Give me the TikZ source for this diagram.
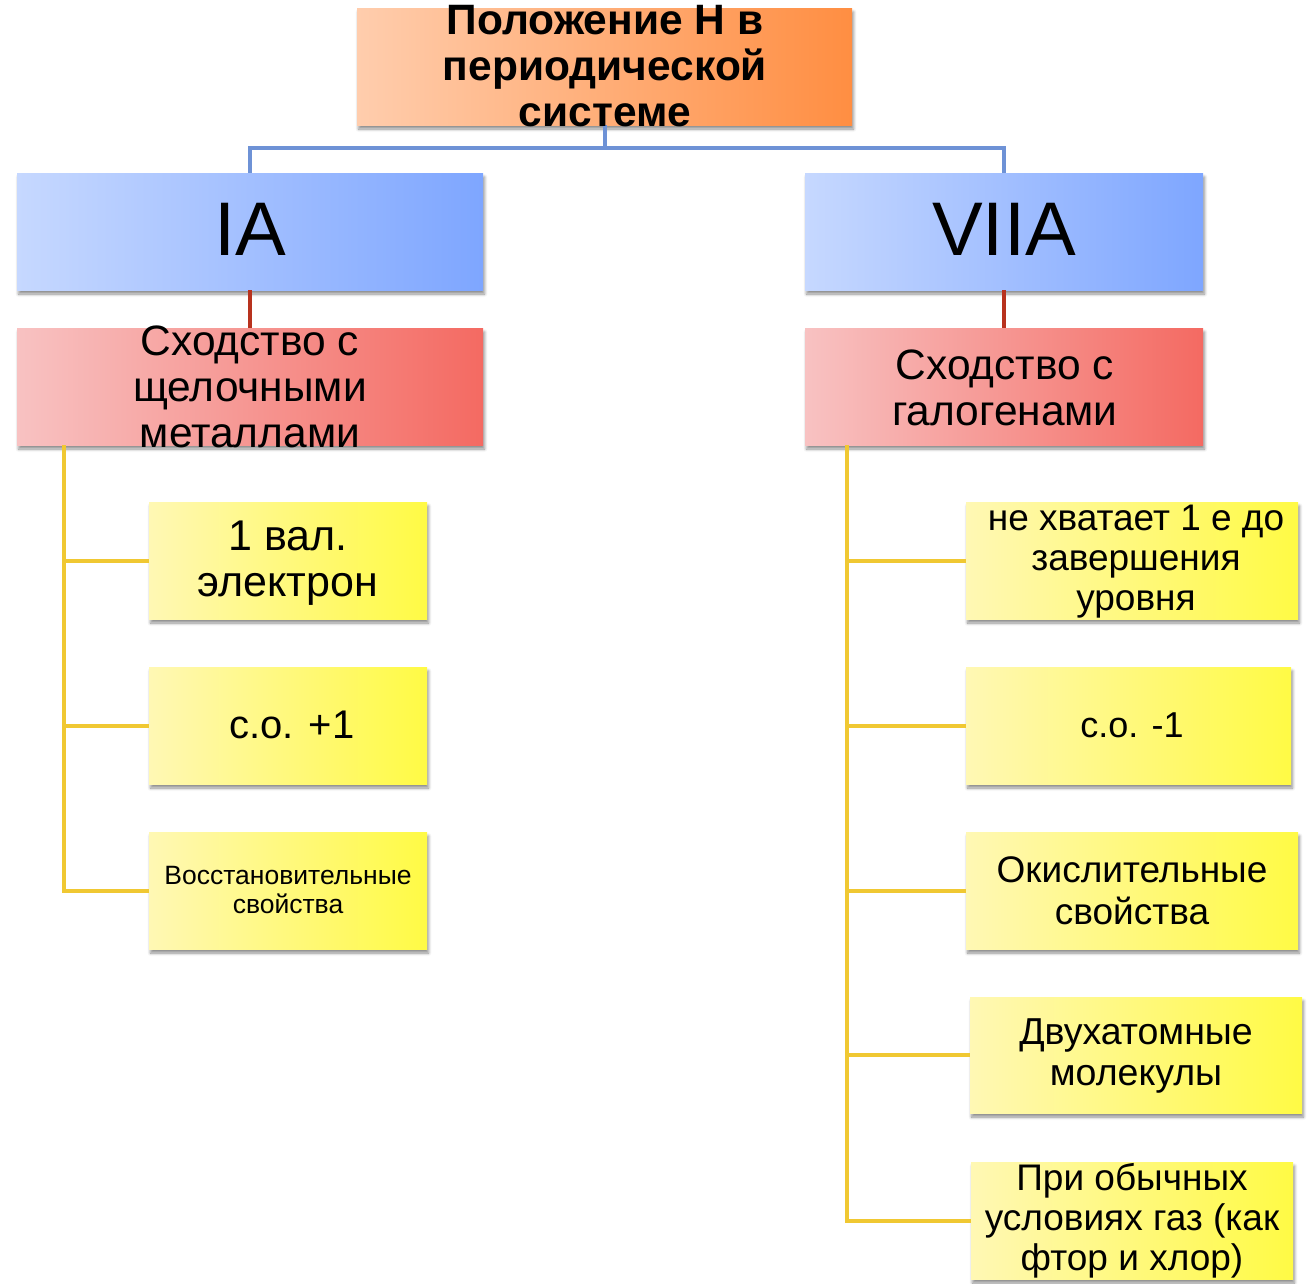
\documentclass[tikz,border=0pt]{standalone}
\usepackage{fontspec}
\setmainfont{Liberation Sans}
\usetikzlibrary{shadows,shadows.blur}
\definecolor{topL}{HTML}{FFCDAD}
\definecolor{topR}{HTML}{FF8E42}
\definecolor{bluL}{HTML}{C6D8FF}
\definecolor{bluR}{HTML}{7EA6FF}
\definecolor{redL}{HTML}{F8C2C2}
\definecolor{redR}{HTML}{F46A62}
\definecolor{yelL}{HTML}{FFF8B4}
\definecolor{yelR}{HTML}{FFFA45}
\definecolor{lnBlue}{HTML}{6E92D6}
\definecolor{lnRed}{HTML}{B8321E}
\definecolor{lnYel}{HTML}{F0C832}
\tikzset{
  box/.style={rectangle, inner sep=0pt, draw=none,
    blur shadow={shadow xshift=1.5pt, shadow yshift=-4pt, shadow blur radius=3pt, shadow blur steps=6, shadow opacity=45}},
  topbox/.style={box, left color=topL, right color=topR},
  grpbox/.style={box, left color=bluL, right color=bluR},
  simbox/.style={box, left color=redL, right color=redR},
  itembox/.style={box, left color=yelL, right color=yelR},
  txt/.style={inner sep=0pt, align=center, text=black},
  conBlue/.style={draw=lnBlue, line width=4pt},
  conRed/.style={draw=lnRed, line width=4pt},
  conYel/.style={draw=lnYel, line width=4pt},
}
\begin{document}
\begin{tikzpicture}[x=1pt,y=-1pt]
\useasboundingbox (0,0) rectangle (1307,1283);
% boxes
\node[topbox, minimum width=495pt, minimum height=117pt] (top) at (604.5,66.5) {};
\node[grpbox, minimum width=466pt, minimum height=117pt] (ia) at (250,231.5) {};
\node[grpbox, minimum width=398pt, minimum height=117pt] (viia) at (1004,231.5) {};
\node[simbox, minimum width=466pt, minimum height=117pt] (sl) at (250,386.5) {};
\node[simbox, minimum width=398pt, minimum height=117pt] (sr) at (1004,386.5) {};
\node[itembox, minimum width=278pt, minimum height=117pt] (l1) at (288,560.5) {};
\node[itembox, minimum width=278pt, minimum height=117pt] (l2) at (288,725.5) {};
\node[itembox, minimum width=278pt, minimum height=117pt] (l3) at (288,890.5) {};
\node[itembox, minimum width=332pt, minimum height=117pt] (r1) at (1132,560.5) {};
\node[itembox, minimum width=325pt, minimum height=117pt] (r2) at (1128.5,725.5) {};
\node[itembox, minimum width=332pt, minimum height=117pt] (r3) at (1132,890.5) {};
\node[itembox, minimum width=332pt, minimum height=116pt] (r4) at (1136,1055) {};
\node[itembox, minimum width=322pt, minimum height=117pt] (r5) at (1132,1220.5) {};
% connectors
\coordinate (bj) at (605,148);
\draw[conBlue] (top.south -| bj) -- (bj);
\draw[conBlue] (ia.north) |- (bj) -| (viia.north);
\draw[conRed] (ia.south) -- (sl.north);
\draw[conRed] (viia.south) -- (sr.north);
\coordinate (lv) at (64,445);
\coordinate (rv) at (847,445);
\draw[conYel] (lv) |- (l1.west);
\draw[conYel] (lv) |- (l2.west);
\draw[conYel] (lv) |- (l3.west);
\draw[conYel] (rv) |- (r1.west);
\draw[conYel] (rv) |- (r2.west);
\draw[conYel] (rv) |- (r3.west);
\draw[conYel] (rv) |- (r4.west);
\draw[conYel] (rv) |- (r5.west);
% texts
\node[txt, font=\fontsize{42.5}{46}\selectfont\bfseries] (ttop) at (605,66) {Положение Н в\\периодической\\системе};
\node[txt, font=\fontsize{76}{84}\selectfont] (tia) at (250,229) {IA};
\node[txt, font=\fontsize{76}{84}\selectfont] (tviia) at (1004,229) {VIIA};
\node[txt, font=\fontsize{42.5}{46}\selectfont] (tsl) at (250,387) {Сходство с\\щелочными\\металлами};
\node[txt, font=\fontsize{42.5}{46}\selectfont] (tsr) at (1005,388) {Сходство с\\галогенами};
\node[txt, font=\fontsize{43}{46}\selectfont] (tl1) at (288,563) {1 вал.\\электрон};
\node[txt, font=\fontsize{40}{46}\selectfont] (tl2) at (292,725) {с.о. +1};
\node[txt, font=\fontsize{26.5}{29}\selectfont] (tl3) at (288,890) {Восстановительные\\свойства};
\node[txt, font=\fontsize{37}{40}\selectfont] (tr1) at (1136,562) {не хватает 1 е до\\завершения\\уровня};
\node[txt, font=\fontsize{36}{40}\selectfont] (tr2) at (1132,725) {с.о. -1};
\node[txt, font=\fontsize{37}{42}\selectfont] (tr3) at (1132,891) {Окислительные\\свойства};
\node[txt, font=\fontsize{37.5}{41}\selectfont] (tr4) at (1136,1056) {Двухатомные\\молекулы};
\node[txt, font=\fontsize{37}{40}\selectfont] (tr5) at (1132,1221) {При обычных\\условиях газ (как\\фтор и хлор)};
\end{tikzpicture}
\end{document}
